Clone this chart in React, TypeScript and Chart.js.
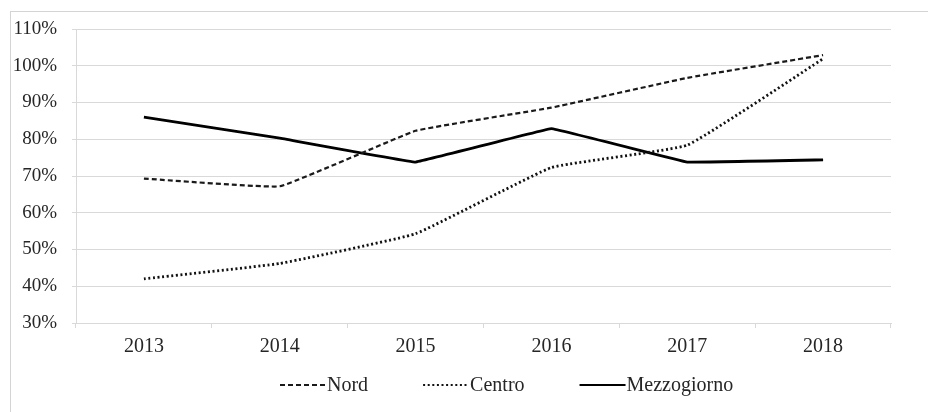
import { useEffect, useRef } from "react";
import { Chart, registerables } from "chart.js";

Chart.register(...registerables);

// Years on the category axis
const years = ["2013", "2014", "2015", "2016", "2017", "2018"];

// Shares (%) by macro-area
const nord = [69.3, 67.2, 82.3, 88.6, 96.7, 102.9];
const centro = [42.0, 46.2, 54.3, 72.3, 78.4, 101.9];
const mezzogiorno = [86.0, 80.3, 73.8, 82.9, 73.8, 74.4];

// Value-axis range and step (%)
const yMin = 30;
const yMax = 110;
const yStep = 10;

const FONT = '"Liberation Serif", "Times New Roman", serif';
const TEXT = "#262626";
const GRID = "#d9d9d9";

// Legend drawn under the axis: dashed/dotted/solid sample followed by the series name
const bottomLegend = {
  id: "bottomLegend",
  afterDraw(chart: any) {
    const ctx = chart.ctx as CanvasRenderingContext2D;
    const y = 385;
    let x = 280;
    const sample = 46;
    ctx.save();
    ctx.font = `20px ${FONT}`;
    ctx.textBaseline = "middle";
    ctx.textAlign = "left";
    chart.data.datasets.forEach((ds: any) => {
      ctx.strokeStyle = ds.borderColor;
      ctx.lineWidth = Math.min(ds.borderWidth, 2.2);
      ctx.lineCap = "butt";
      ctx.setLineDash(ds.borderDash || []);
      ctx.beginPath();
      ctx.moveTo(x, y);
      ctx.lineTo(x + sample, y);
      ctx.stroke();
      ctx.setLineDash([]);
      ctx.fillStyle = TEXT;
      ctx.fillText(ds.label, x + sample + 1, y + 1);
      x += sample + 1 + ctx.measureText(ds.label).width + 55;
    });
    ctx.restore();
  },
};

export default function App() {
  const canvasRef = useRef<HTMLCanvasElement | null>(null);

  useEffect(() => {
    const canvas = canvasRef.current;
    if (!canvas) return;
    const chart = new Chart(canvas, {
      type: "line",
      data: {
        labels: years,
        datasets: [
          {
            label: "Nord",
            data: nord,
            borderColor: "#1a1a1a",
            borderWidth: 2.2,
            borderDash: [5, 3],
            pointRadius: 0,
            tension: 0.08,
            fill: false,
          },
          {
            label: "Centro",
            data: centro,
            borderColor: "#111111",
            borderWidth: 2.8,
            borderDash: [2, 2.6],
            pointRadius: 0,
            tension: 0.1,
            fill: false,
          },
          {
            label: "Mezzogiorno",
            data: mezzogiorno,
            borderColor: "#000000",
            borderWidth: 2.8,
            pointRadius: 0,
            tension: 0.03,
            fill: false,
          },
        ],
      },
      options: {
        responsive: false,
        animation: false,
        layout: { padding: { left: 0, right: 37, top: 29, bottom: 49 } },
        plugins: {
          legend: { display: false },
          tooltip: { enabled: false },
        },
        scales: {
          x: {
            offset: true,
            grid: {
              offset: true,
              drawOnChartArea: false,
              drawTicks: true,
              tickLength: 5,
              color: GRID,
            },
            border: { display: true, color: GRID },
            ticks: {
              color: TEXT,
              font: { family: FONT, size: 20 },
              padding: 7,
              maxRotation: 0,
            },
            afterFit(scale: any) {
              scale.height = 40;
            },
          },
          y: {
            min: yMin,
            max: yMax,
            grid: { color: GRID, tickLength: 4, drawTicks: true },
            border: { display: true, color: GRID },
            ticks: {
              stepSize: yStep,
              color: TEXT,
              font: { family: FONT, size: 19 },
              padding: 15,
              callback: (v: any) => `${v}%`,
            },
            afterFit(scale: any) {
              scale.width = 76;
            },
          },
        },
      },
      plugins: [bottomLegend],
    });
    return () => chart.destroy();
  }, []);

  return (
    <div
      style={{
        position: "fixed",
        left: 0,
        top: 0,
        width: 928,
        height: 412,
        overflow: "hidden",
        background: "#ffffff",
      }}
    >
      <div
        style={{
          position: "absolute",
          left: 10,
          top: 11,
          width: 940,
          height: 420,
          border: "1px solid #d4d4d4",
        }}
      />
      <canvas
        ref={canvasRef}
        width={928}
        height={412}
        style={{ position: "absolute", left: 0, top: 0 }}
      />
    </div>
  );
}
